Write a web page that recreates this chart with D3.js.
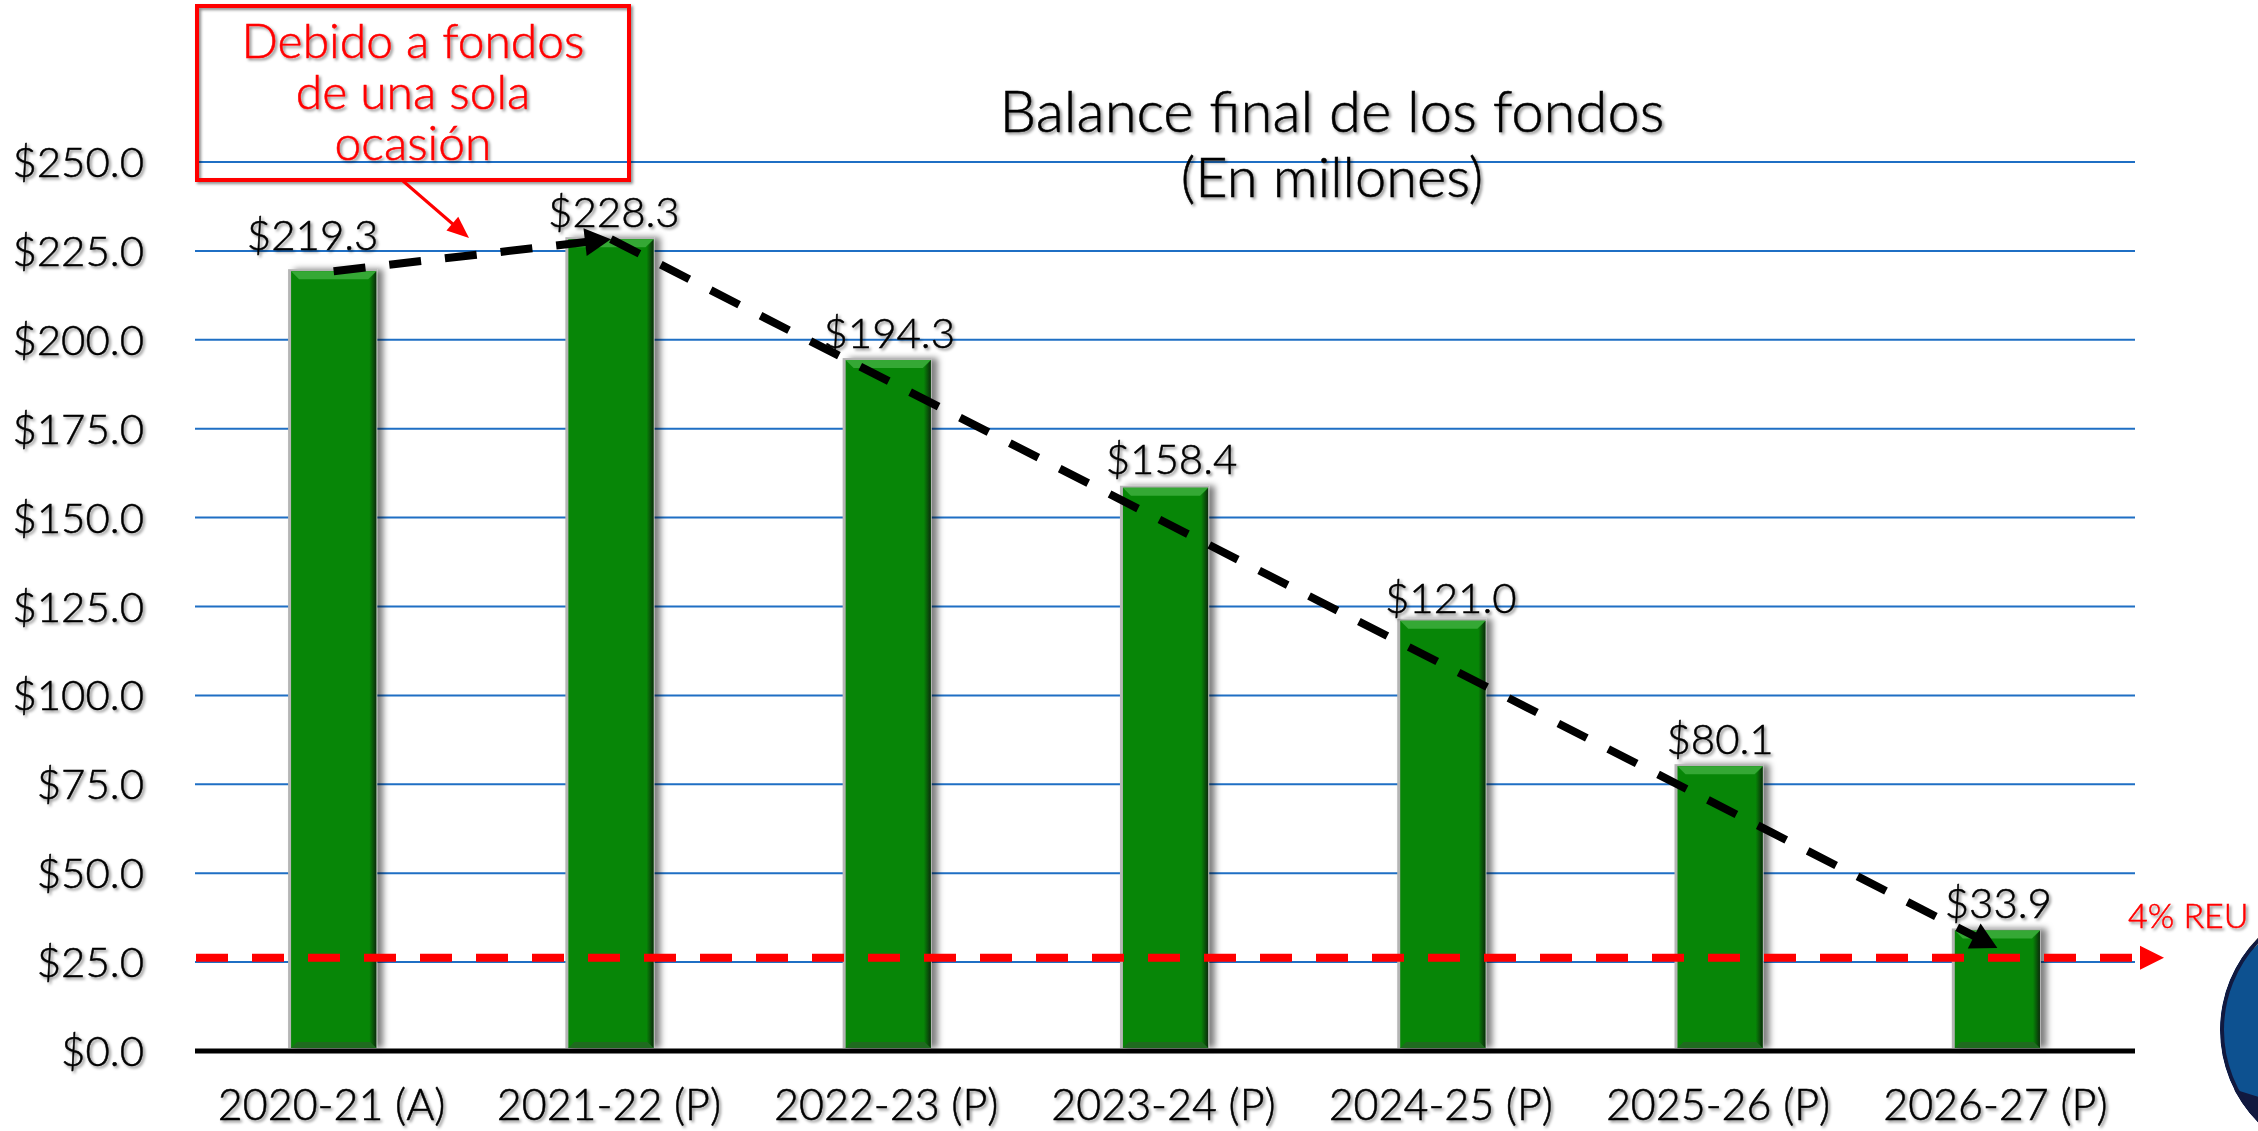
<!DOCTYPE html>
<html>
<head>
<meta charset="utf-8">
<script src="https://cdn.jsdelivr.net/npm/d3@7"></script>
<style>
  html, body { margin: 0; background: #fff; overflow: hidden; }
  text { font-family: Lato, sans-serif; font-weight: 300; stroke-width: 0.5; }
</style>
</head>
<body>
<div id="chart"></div>
<script>
const years = ["2020-21 (A)", "2021-22 (P)", "2022-23 (P)", "2023-24 (P)", "2024-25 (P)", "2025-26 (P)", "2026-27 (P)"];
const balances = [219.3, 228.3, 194.3, 158.4, 121.0, 80.1, 33.9];
const yTicks = [0, 25, 50, 75, 100, 125, 150, 175, 200, 225, 250];
const noteLines = ["Debido a fondos", "de una sola", "ocasión"];
const titleLines = ["Balance final de los fondos", "(En millones)"];
const reuValue = 26.2;
const reuLabel = "4% REU";
// trend arrows: [year index, value] at each end
const trendOne = [[0, 219.3], [1, 228.3]];
const trendTwo = [[1, 228.3], [6, 29]];

const W = 2258, H = 1131;
const plotLeft = 195, plotRight = 2136, plotTop = 162, plotBottom = 1051;

const svg = d3.select("#chart").append("svg")
  .attr("width", W)
  .attr("height", H);

const defs = svg.append("defs");

const txtShadow = defs.append("filter").attr("id", "txtShadow")
  .attr("x", "-10%").attr("y", "-20%").attr("width", "120%").attr("height", "150%");
txtShadow.append("feDropShadow")
  .attr("dx", 2).attr("dy", 2).attr("stdDeviation", 1.4)
  .attr("flood-color", "#000").attr("flood-opacity", 0.45);

const barShadow = defs.append("filter").attr("id", "barShadow")
  .attr("x", "-30%").attr("y", "-10%").attr("width", "160%").attr("height", "120%");
barShadow.append("feDropShadow")
  .attr("dx", 6).attr("dy", 0).attr("stdDeviation", 3)
  .attr("flood-color", "#000").attr("flood-opacity", 0.5);

// right edge of each bar fades from the fill into near black
const edgeFade = defs.append("linearGradient").attr("id", "edgeFade");
edgeFade.append("stop").attr("offset", "0%").attr("stop-color", "#078607");
edgeFade.append("stop").attr("offset", "100%").attr("stop-color", "#0c2c0c");

defs.append("clipPath").attr("id", "globeClip")
  .append("circle").attr("cx", 2351).attr("cy", 1030).attr("r", 131);

const x = d3.scaleBand().domain(years).range([plotLeft, plotRight]).paddingInner(0.693).paddingOuter(0.3465);
const y = d3.scaleLinear().domain([0, 250]).range([plotBottom, plotTop]);
const xIdx = i => x(years[i]) + x.bandwidth() / 2;

// gridlines
svg.append("g").selectAll("line")
  .data(yTicks.filter(d => d > 0))
  .enter()
  .append("line")
  .attr("x1", plotLeft)
  .attr("x2", plotRight - 1)
  .attr("y1", d => y(d))
  .attr("y2", d => y(d))
  .attr("stroke", "#1f6fc4")
  .attr("stroke-width", 2);

// y tick labels
svg.append("g")
  .attr("filter", "url(#txtShadow)")
  .selectAll("text")
  .data(yTicks)
  .enter()
  .append("text")
  .attr("x", 144)
  .attr("y", d => y(d) + 15)
  .attr("text-anchor", "end")
  .attr("font-size", 42)
  .attr("fill", "#000")
  .attr("stroke", "#000")
  .text(d => "$" + d.toFixed(1));

// bars
const bevel = 8;
const bars = svg.append("g").selectAll("g")
  .data(balances)
  .enter()
  .append("g");

bars.append("rect")
  .attr("x", (d, i) => x(years[i]) - 3)
  .attr("y", d => y(d) - 2)
  .attr("width", x.bandwidth() + 4)
  .attr("height", d => plotBottom - y(d) - 1)
  .attr("fill", "#b5b5b5")
  .attr("filter", "url(#barShadow)");

bars.append("rect")
  .attr("x", (d, i) => x(years[i]))
  .attr("y", d => y(d))
  .attr("width", x.bandwidth())
  .attr("height", d => plotBottom - y(d) - 3)
  .attr("fill", "#078607");

// right bevel, darker
bars.append("path")
  .attr("d", (d, i) => {
    const x1 = x(years[i]) + x.bandwidth(), t = y(d), b = plotBottom - 3;
    return `M${x1},${t}L${x1},${b}L${x1 - 7},${b - 6}L${x1 - 7},${t + bevel}Z`;
  })
  .attr("fill", "url(#edgeFade)");

// top bevel, lighter
bars.append("path")
  .attr("d", (d, i) => {
    const x0 = x(years[i]), x1 = x0 + x.bandwidth(), t = y(d);
    return `M${x0},${t}L${x1},${t}L${x1 - bevel},${t + bevel}L${x0 + bevel},${t + bevel}Z`;
  })
  .attr("fill", "#35a835");

// bottom bevel
bars.append("path")
  .attr("d", (d, i) => {
    const x0 = x(years[i]), x1 = x0 + x.bandwidth(), b = plotBottom - 3;
    return `M${x0},${b}L${x1},${b}L${x1 - 6},${b - 6}L${x0 + 6},${b - 6}Z`;
  })
  .attr("fill", "#1f6b1f");

// baseline
svg.append("line")
  .attr("x1", plotLeft)
  .attr("x2", plotRight - 1)
  .attr("y1", y(0))
  .attr("y2", y(0))
  .attr("stroke", "#000")
  .attr("stroke-width", 5);

// value labels, placed by hand in the original so nudge a few
const labelGap = i => (i === 0 ? 21 : i === 3 ? 14 : i === 4 ? 8 : 12);
const labelShift = i => (i === 0 ? -21 : i === 3 ? 6 : i === 4 ? 8 : i === 5 ? 0 : i === 1 ? 3 : 1);
svg.append("g")
  .attr("filter", "url(#txtShadow)")
  .selectAll("text")
  .data(balances)
  .enter()
  .append("text")
  .attr("x", (d, i) => xIdx(i) + labelShift(i))
  .attr("y", (d, i) => y(d) - labelGap(i))
  .attr("text-anchor", "middle")
  .attr("font-size", 42)
  .attr("fill", "#000")
  .attr("stroke", "#000")
  .text(d => "$" + d.toFixed(1));

// x labels
svg.append("g")
  .attr("filter", "url(#txtShadow)")
  .selectAll("text")
  .data(years)
  .enter()
  .append("text")
  .attr("x", d => x(d) + x.bandwidth() / 2 - 2)
  .attr("y", 1120)
  .attr("text-anchor", "middle")
  .attr("font-size", 43)
  .attr("fill", "#000")
  .attr("stroke", "#000")
  .text(d => d);

// title
svg.append("g")
  .attr("filter", "url(#txtShadow)")
  .selectAll("text")
  .data(titleLines)
  .enter()
  .append("text")
  .attr("x", 1332)
  .attr("y", (d, i) => 132 + i * 65)
  .attr("text-anchor", "middle")
  .attr("font-size", (d, i) => (i === 0 ? 58 : 56))
  .attr("fill", "#000")
  .attr("stroke", "#000")
  .text(d => d);

// red 4% REU line
const reuY = y(reuValue);
svg.append("line")
  .attr("x1", plotLeft + 1)
  .attr("x2", 2132)
  .attr("y1", reuY)
  .attr("y2", reuY)
  .attr("stroke", "#ff0000")
  .attr("stroke-width", 8)
  .attr("stroke-dasharray", "32 24");
svg.append("path")
  .attr("d", `M2140,${reuY - 12}L2164,${reuY}L2140,${reuY + 12}Z`)
  .attr("fill", "#ff0000");
svg.append("text")
  .attr("x", 2128)
  .attr("y", 928)
  .attr("font-size", 34)
  .attr("fill", "#ff0000")
  .attr("stroke", "#ff0000")
  .attr("filter", "url(#txtShadow)")
  .text(reuLabel);

// black dashed trend arrows
const trendLine = d3.line().x(d => xIdx(d[0])).y(d => y(d[1]));
const arrowHead = (p0, p1, len, half) => {
  const dx = p1[0] - p0[0], dy = p1[1] - p0[1], n = Math.hypot(dx, dy);
  const ux = dx / n, uy = dy / n;
  const bx = p1[0] - ux * len, by = p1[1] - uy * len;
  return `M${p1[0]},${p1[1]}L${bx - uy * half},${by + ux * half}L${bx + uy * half},${by - ux * half}Z`;
};
[trendOne, trendTwo].forEach(t => {
  const a = [xIdx(t[0][0]), y(t[0][1])], b = [xIdx(t[1][0]), y(t[1][1])];
  svg.append("path")
    .attr("d", trendLine(t))
    .attr("fill", "none")
    .attr("stroke", "#000")
    .attr("stroke-width", 8)
    .attr("stroke-dasharray", "32 24");
  svg.append("path")
    .attr("d", arrowHead(a, b, 26, 14))
    .attr("fill", "#000");
});

// note box
const note = svg.append("g");
note.append("rect")
  .attr("x", 197)
  .attr("y", 6)
  .attr("width", 432)
  .attr("height", 174)
  .attr("fill", "none")
  .attr("stroke", "#ff0000")
  .attr("stroke-width", 4)
  .attr("filter", "url(#txtShadow)");
note.append("g")
  .attr("filter", "url(#txtShadow)")
  .selectAll("text")
  .data(noteLines)
  .enter()
  .append("text")
  .attr("x", 413)
  .attr("y", (d, i) => 58 + i * 51)
  .attr("text-anchor", "middle")
  .attr("font-size", 48)
  .attr("fill", "#ff0000")
  .attr("stroke", "#ff0000")
  .text(d => d);
note.append("line")
  .attr("x1", 403)
  .attr("y1", 181)
  .attr("x2", 462)
  .attr("y2", 232)
  .attr("stroke", "#ff0000")
  .attr("stroke-width", 3);
note.append("path")
  .attr("d", arrowHead([403, 181], [469, 238], 22, 9))
  .attr("fill", "#ff0000");

// logo globe at the page edge
const globe = svg.append("g").attr("clip-path", "url(#globeClip)");
globe.append("circle")
  .attr("cx", 2351)
  .attr("cy", 1030)
  .attr("r", 131)
  .attr("fill", "#0d5190");
globe.append("path")
  .attr("d", "M2230,1088L2262,1098L2262,1140L2230,1140Z")
  .attr("fill", "#11193f");
globe.append("path")
  .attr("d", "M2246,950L2258,932L2262,932L2262,940L2254,948Z")
  .attr("fill", "#d9b98a");
globe.append("circle")
  .attr("cx", 2351)
  .attr("cy", 1030)
  .attr("r", 129)
  .attr("fill", "none")
  .attr("stroke", "#11193f")
  .attr("stroke-width", 4);
</script>
</body>
</html>
